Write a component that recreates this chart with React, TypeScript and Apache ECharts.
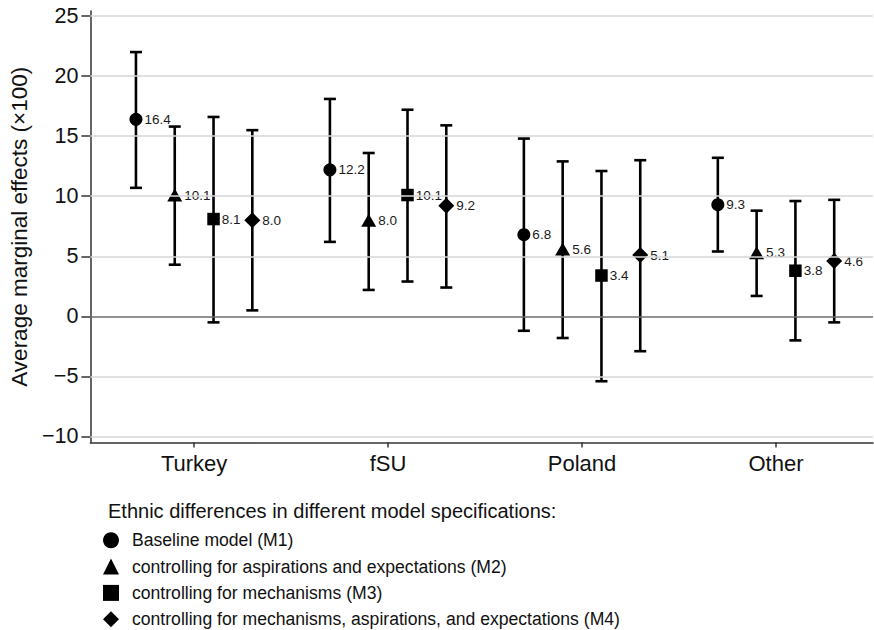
import React, { useEffect, useRef } from "react";
import * as echarts from "echarts";

const categories = ["Turkey", "fSU", "Poland", "Other"];
const modelNames = [
  "Baseline model (M1)",
  "controlling for aspirations and expectations (M2)",
  "controlling for mechanisms (M3)",
  "controlling for mechanisms, aspirations, and expectations (M4)",
];
const modelSymbols = ["circle", "triangle", "rect", "diamond"];
const modelSymbolSizes: any[] = [13, [15, 13], 12.5, [16, 16]];
const modelOffsets = [-0.3, -0.1, 0.1, 0.3];

const m1Est = [16.4, 12.2, 6.8, 9.3];
const m1Low = [10.7, 6.2, -1.2, 5.4];
const m1High = [22.0, 18.1, 14.8, 13.2];

const m2Est = [10.1, 8.0, 5.6, 5.3];
const m2Low = [4.3, 2.2, -1.8, 1.7];
const m2High = [15.8, 13.6, 12.9, 8.8];

const m3Est = [8.1, 10.1, 3.4, 3.8];
const m3Low = [-0.5, 2.9, -5.4, -2.0];
const m3High = [16.6, 17.2, 12.1, 9.6];

const m4Est = [8.0, 9.2, 5.1, 4.6];
const m4Low = [0.5, 2.4, -2.9, -0.5];
const m4High = [15.5, 15.9, 13.0, 9.7];

const yTicks = [-10, -5, 0, 5, 10, 15, 20, 25];
const xTicks = [1, 2, 3, 4];

const legendTitle = "Ethnic differences in different model specifications:";
const yTitle = "Average marginal effects (\u00d7100)";

const FONT = "'Liberation Sans', Arial, Helvetica, sans-serif";

export default function App() {
  const ref = useRef<HTMLDivElement>(null);

  useEffect(() => {
    if (!ref.current) return;
    const chart = echarts.init(ref.current, null, { renderer: "svg" });

    const ests = [m1Est, m2Est, m3Est, m4Est];
    const lows = [m1Low, m2Low, m3Low, m4Low];
    const highs = [m1High, m2High, m3High, m4High];

    const series: any[] = [];

    series.push({
      type: "scatter",
      name: "__grid",
      data: [],
      silent: true,
      z: 1,
      markLine: {
        silent: true,
        symbol: "none",
        label: { show: false },
        animation: false,
        data: yTicks.map((v) => ({
          yAxis: v,
          lineStyle: {
            color: v === 0 ? "#6e6e6e" : "#d6d6d6",
            width: 1.6,
            type: "solid",
          },
        })),
      },
    });

    for (let m = 0; m < 4; m++) {
      series.push({
        type: "custom",
        name: "__err" + m,
        z: 2,
        silent: true,
        data: categories.map((_, i) => [i + 1 + modelOffsets[m], lows[m][i], highs[m][i]]),
        renderItem: (params: any, api: any) => {
          const x = api.value(0);
          const lo = api.coord([x, api.value(1)]);
          const hi = api.coord([x, api.value(2)]);
          const hw = 6;
          const style = { stroke: "#000", lineWidth: 2.6 };
          return {
            type: "group",
            children: [
              { type: "line", shape: { x1: lo[0], y1: lo[1], x2: hi[0], y2: hi[1] }, style },
              { type: "line", shape: { x1: lo[0] - hw, y1: lo[1], x2: lo[0] + hw, y2: lo[1] }, style },
              { type: "line", shape: { x1: hi[0] - hw, y1: hi[1], x2: hi[0] + hw, y2: hi[1] }, style },
            ],
          };
        },
      });
    }

    for (let m = 0; m < 4; m++) {
      series.push({
        type: "scatter",
        name: modelNames[m],
        z: 3,
        symbol: modelSymbols[m],
        symbolSize: modelSymbolSizes[m],
        itemStyle: { color: "#000", opacity: 1 },
        data: categories.map((_, i) => [i + 1 + modelOffsets[m], ests[m][i]]),
        label: {
          show: true,
          position: "right",
          distance: 2,
          formatter: (p: any) => Number(p.value[1]).toFixed(1),
          fontFamily: FONT,
          fontSize: 13.5,
          color: "#1a1a1a",
        },
      });
    }

    const legendCenters = [540, 566.3, 592.7, 619];
    const legendFont = 17.6;
    const legends = modelNames.map((n, i) => ({
      show: true,
      orient: "vertical",
      left: 103,
      top: legendCenters[i] - legendFont / 2,
      padding: 0,
      itemWidth: 16,
      itemHeight: 16,
      selectedMode: false,
      data: [{ name: n, icon: modelSymbols[i] }],
      textStyle: {
        fontFamily: FONT,
        fontSize: legendFont,
        color: "#111",
        padding: [0, 0, 0, 8],
      },
    }));

    chart.setOption({
      animation: false,
      backgroundColor: "#ffffff",
      textStyle: { fontFamily: FONT },
      grid: { left: 88, top: 11, right: 1, bottom: 187.5, containLabel: false },
      xAxis: {
        type: "value",
        min: 0.465,
        max: 4.5,
        axisLine: { show: true, onZero: false, lineStyle: { color: "#333", width: 1.5 } },
        axisTick: { show: true, customValues: xTicks, length: 5, lineStyle: { color: "#333", width: 1.5 } },
        axisLabel: {
          show: true,
          customValues: xTicks,
          formatter: (v: number) => categories[Math.round(v) - 1] ?? "",
          fontFamily: FONT,
          fontSize: 22,
          color: "#111",
          margin: 10,
        },
        splitLine: { show: false },
      },
      yAxis: {
        type: "value",
        min: -10.5,
        max: 25.42,
        name: yTitle,
        nameLocation: "middle",
        nameGap: 57,
        nameTextStyle: { fontFamily: FONT, fontSize: 22.5, color: "#111" },
        axisLine: { show: true, onZero: false, lineStyle: { color: "#333", width: 1.5 } },
        axisTick: { show: true, customValues: yTicks, length: 9, lineStyle: { color: "#333", width: 1.5 } },
        axisLabel: {
          show: true,
          customValues: yTicks,
          formatter: (v: number) => (v < 0 ? "\u2212" + Math.abs(v) : String(v)),
          fontFamily: FONT,
          fontSize: 21.5,
          color: "#111",
          margin: 12,
        },
        splitLine: { show: false },
      },
      legend: legends,
      graphic: [
        {
          type: "text",
          left: 108,
          top: 501,
          style: { text: legendTitle, fontFamily: FONT, fontSize: 20, fill: "#111" },
        },
      ],
      series,
    });

    return () => chart.dispose();
  }, []);

  return (
    <div
      ref={ref}
      style={{ position: "absolute", left: 0, top: 0, width: 874, height: 630 }}
    />
  );
}
